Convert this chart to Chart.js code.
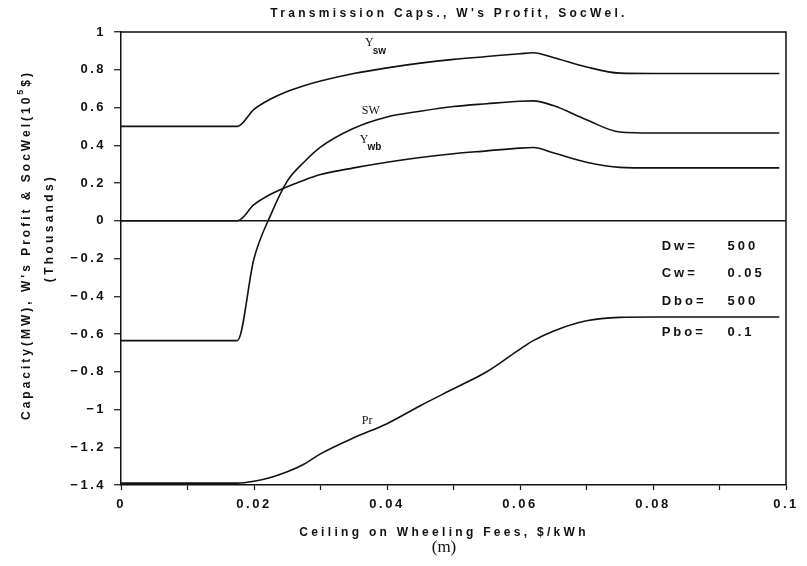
<!DOCTYPE html>
<html>
<head>
<meta charset="utf-8">
<script src="https://cdn.jsdelivr.net/npm/chart.js@4.4.1/dist/chart.umd.min.js"></script>
<style>
  html, body { margin: 0; padding: 0; background: #fff; }
  #wrap { width: 807px; height: 566px; position: relative; }
</style>
</head>
<body>
<div id="wrap"><canvas id="c" width="807" height="566"></canvas></div>
<script>
// Ceiling on wheeling fees ($/kWh) shared by every curve
const feeCeilings = [0, 0.0175, 0.02, 0.0225, 0.025, 0.0275, 0.03, 0.035, 0.04, 0.045,
                     0.05, 0.055, 0.06, 0.062, 0.065, 0.07, 0.075, 0.08, 0.09, 0.099];

// Transmission capacity Y_sw
const capacitySW = [0.50, 0.50, 0.59, 0.645, 0.685, 0.715, 0.74, 0.78, 0.81, 0.835,
                    0.855, 0.87, 0.885, 0.89, 0.865, 0.815, 0.782, 0.78, 0.78, 0.78];
// Social welfare SW
const socialWelfare = [-0.635, -0.635, -0.2, 0.03, 0.21, 0.31, 0.39, 0.49, 0.55, 0.58,
                       0.605, 0.62, 0.633, 0.635, 0.61, 0.535, 0.47, 0.465, 0.465, 0.465];
// Transmission capacity Y_wb
const capacityWB = [0, 0, 0.085, 0.14, 0.18, 0.215, 0.245, 0.28, 0.31, 0.335,
                    0.355, 0.37, 0.385, 0.388, 0.36, 0.31, 0.283, 0.28, 0.28, 0.28];
// W's profit Pr
const profitW = [-1.39, -1.39, -1.38, -1.36, -1.33, -1.29, -1.235, -1.15, -1.075, -0.98,
                 -0.89, -0.80, -0.68, -0.635, -0.585, -0.53, -0.512, -0.51, -0.51, -0.51];

// Axis ticks
const xTickStep = 0.01;
const yTickValues = [1, 0.8, 0.6, 0.4, 0.2, 0, -0.2, -0.4, -0.6, -0.8, -1, -1.2, -1.4];

// Model parameters shown in the plot
const paramNames = ['Dw=', 'Cw=', 'Dbo=', 'Pbo='];
const paramValues = ['500', '0.05', '500', '0.1'];

// Curve name labels: [text, subscript, x, y]
const curveLabels = [
  ['Y', 'sw', 0.0367, 0.94],
  ['SW', '', 0.0362, 0.58],
  ['Y', 'wb', 0.0359, 0.43],
  ['Pr', '', 0.0362, -1.06]
];

const toPoints = ys => feeCeilings.map((x, i) => ({ x: x, y: ys[i] }));
const SANS = '"Liberation Sans", Arial, sans-serif';
const SERIF = '"Liberation Serif", "DejaVu Serif", serif';
const INK = '#111';

function fmt(v) {
  const r = Math.round(v * 100) / 100;
  const s = String(Math.abs(r));
  return r < 0 ? '\u2212' + s : s;
}

function lineDs(data) {
  return {
    data: toPoints(data),
    borderColor: INK,
    borderWidth: 1.6,
    pointRadius: 0,
    fill: false,
    cubicInterpolationMode: 'monotone'
  };
}

const decorations = {
  id: 'decorations',
  beforeDraw(chart) {
    chart.ctx.letterSpacing = '2.5px';
  },
  afterDraw(chart) {
    const ctx = chart.ctx;
    const a = chart.chartArea;
    const xs = chart.scales.x, ys = chart.scales.y;
    ctx.save();
    // frame top and right
    ctx.strokeStyle = INK;
    ctx.lineWidth = 1.5;
    ctx.beginPath();
    ctx.moveTo(a.left, a.top);
    ctx.lineTo(a.right, a.top);
    ctx.lineTo(a.right, a.bottom);
    ctx.stroke();

    ctx.fillStyle = INK;
    ctx.textAlign = 'center';
    ctx.textBaseline = 'middle';

    // title
    ctx.letterSpacing = '3.3px';
    ctx.font = 'bold 12px ' + SANS;
    ctx.fillText("Transmission Caps., W's Profit, SocWel.", 449, 14);

    // x axis title
    ctx.fillText('Ceiling on Wheeling Fees, $/kWh', 444, 533);
    ctx.letterSpacing = '0px';
    ctx.font = '17px ' + SERIF;
    ctx.fillText('(m)', 444, 548);

    // y axis title
    ctx.save();
    ctx.translate(27, 245);
    ctx.rotate(-Math.PI / 2);
    ctx.letterSpacing = '3px';
    ctx.font = 'bold 12px ' + SANS;
    ctx.textAlign = 'left';
    const p1 = "Capacity(MW), W's Profit & SocWel(10";
    const p3 = '$)';
    const w1 = ctx.measureText(p1).width;
    ctx.font = 'bold 9px ' + SANS;
    const w2 = ctx.measureText('5').width;
    ctx.font = 'bold 12px ' + SANS;
    const w3 = ctx.measureText(p3).width;
    let x0 = -(w1 + w2 + w3) / 2;
    ctx.fillText(p1, x0, 0);
    ctx.font = 'bold 9px ' + SANS;
    ctx.fillText('5', x0 + w1, -6);
    ctx.font = 'bold 12px ' + SANS;
    ctx.fillText(p3, x0 + w1 + w2, 0);
    ctx.restore();

    ctx.save();
    ctx.translate(50, 228);
    ctx.rotate(-Math.PI / 2);
    ctx.letterSpacing = '3.3px';
    ctx.font = 'bold 12px ' + SANS;
    ctx.fillText('(Thousands)', 0, 0);
    ctx.restore();

    // parameter block
    ctx.letterSpacing = '3px';
    ctx.font = 'bold 13px ' + SANS;
    ctx.textAlign = 'left';
    const rows = [-0.135, -0.28, -0.425, -0.59];
    paramNames.forEach((n, i) => {
      const py = ys.getPixelForValue(rows[i]);
      ctx.fillText(n, xs.getPixelForValue(0.0813), py);
      ctx.fillText(paramValues[i], xs.getPixelForValue(0.0912), py);
    });

    // curve labels
    ctx.letterSpacing = '0px';
    curveLabels.forEach(([t, sub, x, y]) => {
      const px = xs.getPixelForValue(x), py = ys.getPixelForValue(y);
      ctx.font = '12px ' + SERIF;
      ctx.fillText(t, px, py);
      if (sub) {
        const w = ctx.measureText(t).width;
        ctx.font = 'bold 10px ' + SANS;
        ctx.fillText(sub, px + w - 1, py + 8);
      }
    });
    ctx.restore();
    ctx.letterSpacing = '0px';
  }
};

new Chart(document.getElementById('c'), {
  type: 'line',
  data: {
    datasets: [lineDs(capacitySW), lineDs(socialWelfare), lineDs(capacityWB), lineDs(profitW)]
  },
  options: {
    responsive: false,
    animation: false,
    events: [],
    layout: { padding: { top: 32, right: 21, left: 0, bottom: 0 } },
    plugins: { legend: { display: false }, title: { display: false }, tooltip: { enabled: false } },
    scales: {
      x: {
        type: 'linear',
        min: 0, max: 0.1,
        afterFit: s => { s.height = 81; },
        border: { display: true, color: INK, width: 1.5 },
        grid: { drawOnChartArea: false, tickLength: 5, tickColor: INK, tickWidth: 1.2 },
        ticks: {
          stepSize: xTickStep,
          autoSkip: false,
          maxRotation: 0,
          padding: 7,
          color: INK,
          font: { family: SANS, size: 13, weight: 'bold' },
          callback: (v, i) => (i % 2 === 0 ? fmt(v) : '')
        }
      },
      y: {
        type: 'linear',
        min: -1.4, max: 1,
        afterFit: s => { s.width = 121; },
        afterBuildTicks: s => { s.ticks = yTickValues.map(v => ({ value: v })); },
        border: { display: true, color: INK, width: 1.5 },
        grid: {
          drawOnChartArea: true,
          color: c => (c.tick && Math.abs(c.tick.value) < 1e-9 ? INK : 'rgba(0,0,0,0)'),
          lineWidth: 1.5,
          tickLength: 7,
          tickColor: INK,
          tickWidth: 1.2
        },
        ticks: {
          padding: 8,
          color: INK,
          font: { family: SANS, size: 13, weight: 'bold' },
          callback: v => fmt(v)
        }
      }
    }
  },
  plugins: [decorations]
});
</script>
</body>
</html>
